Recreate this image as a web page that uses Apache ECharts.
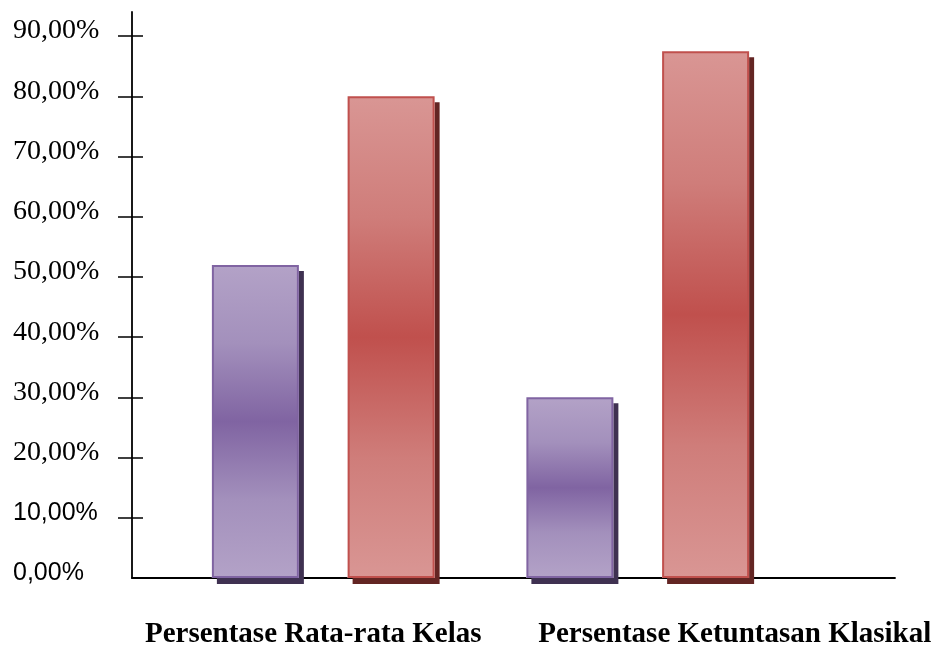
<!DOCTYPE html>
<html>
<head>
<meta charset="utf-8">
<script src="https://cdn.jsdelivr.net/npm/echarts@6/dist/echarts.min.js"></script>
<style>
  html, body { margin: 0; padding: 0; background: #fff; }
  #chart { width: 935px; height: 651px; }
</style>
</head>
<body>
<div id="chart"></div>
<script>
// Category names shown under the bars
const categories = ['Persentase Rata-rata Kelas', 'Persentase Ketuntasan Klasikal'];
// Percentages for the two series
const purpleValues = [52, 30];
const redValues = [80, 87.5];
// Values that get a tick and a label on the vertical axis
const tickValues = [0, 10, 20, 30, 40, 50, 60, 70, 80, 90];
const crossTickValues = [10, 20, 30, 40, 50, 60, 70, 80, 90];

const Y_MAX = 94;
const SERIF = '"Liberation Serif", "Times New Roman", serif';
const SANS = '"Liberation Sans", Arial, sans-serif';

function pctLabel(v) {
  return Number(v).toFixed(2).replace('.', ',') + '%';
}

function barGradient(edge, mid, soft) {
  return new echarts.graphic.LinearGradient(0, 0, 0, 1, [
    { offset: 0, color: edge },
    { offset: 0.25, color: soft },
    { offset: 0.5, color: mid },
    { offset: 0.75, color: soft },
    { offset: 1, color: edge }
  ]);
}
const purpleFill = barGradient('#b3a2c7', '#8064a2', '#a390bc');
const redFill = barGradient('#d99694', '#c0504d', '#cf7d7a');

const BAR_W = 87;
const BAR_GAP = '56%';

const frameBox = { left: 132, right: 40, top: 12, bottom: 73 };
const plotBox = { left: 166, right: 140, top: 12, bottom: 73 };
// ticks cross the axis line: they run from 14px left of it to 11px right of it
const tickBox = { left: 118, right: 40, top: 12, bottom: 73 };

const chart = echarts.init(document.getElementById('chart'), null, { renderer: 'canvas' });

chart.setOption({
  animation: false,
  backgroundColor: '#ffffff',
  grid: [
    Object.assign({}, frameBox),
    Object.assign({}, plotBox),
    Object.assign({}, plotBox),
    Object.assign({}, tickBox)
  ],
  xAxis: [
    {
      gridIndex: 0, type: 'category', data: categories,
      axisLine: { lineStyle: { color: '#000', width: 1.8 } },
      axisTick: { show: false }, axisLabel: { show: false }
    },
    {
      gridIndex: 1, type: 'category', data: categories,
      axisLine: { show: false }, axisTick: { show: false },
      axisLabel: {
        margin: 42,
        formatter: function (v, i) { return '{c' + i + '|' + v + '}'; },
        rich: {
          c0: { fontFamily: SERIF, fontWeight: 'bold', fontSize: 29, color: '#000', padding: [0, 20, 0, 0] },
          c1: { fontFamily: SERIF, fontWeight: 'bold', fontSize: 29, color: '#000', padding: [0, 0, 0, 194] }
        }
      }
    },
    { gridIndex: 2, type: 'category', data: categories, show: false },
    { gridIndex: 3, type: 'category', data: categories, show: false }
  ],
  yAxis: [
    {
      gridIndex: 0, type: 'value', min: 0, max: Y_MAX, position: 'left',
      axisLine: { show: true, lineStyle: { color: '#000', width: 1.8 } },
      axisTick: { show: false },
      splitLine: { show: false },
      axisLabel: {
        customValues: tickValues,
        margin: 119,
        align: 'left',
        padding: [0, 0, 10, 0],
        formatter: function (v) {
          const key = Number(v) <= 10 ? 's' : 't';
          return '{' + key + '|' + pctLabel(v) + '}';
        },
        rich: {
          t: { fontFamily: SERIF, fontSize: 28, color: '#000' },
          s: { fontFamily: SANS, fontSize: 25, color: '#000' }
        }
      }
    },
    {
      gridIndex: 1, type: 'value', min: 0, max: Y_MAX, show: false,
      splitLine: { show: false }
    },
    {
      gridIndex: 2, type: 'value', min: 0, max: Y_MAX, show: false,
      splitLine: { show: false }
    },
    {
      gridIndex: 3, type: 'value', min: 0, max: Y_MAX, position: 'left',
      axisLine: { show: false },
      axisTick: { show: true, inside: true, length: 25, customValues: crossTickValues, lineStyle: { color: '#000', width: 1.5 } },
      axisLabel: { show: false },
      splitLine: { show: false }
    }
  ],
  series: [
    // shadows (filled shapes only, so the outline casts no shadow)
    {
      name: 'Seri 1 bayangan', type: 'bar', xAxisIndex: 2, yAxisIndex: 2, z: 1,
      data: purpleValues, barWidth: BAR_W, barGap: BAR_GAP, silent: true,
      itemStyle: { color: '#ffffff', shadowColor: '#3f3151', shadowBlur: 0, shadowOffsetX: 5, shadowOffsetY: 6 }
    },
    {
      name: 'Seri 2 bayangan', type: 'bar', xAxisIndex: 2, yAxisIndex: 2, z: 1,
      data: redValues, barWidth: BAR_W, barGap: BAR_GAP, silent: true,
      itemStyle: { color: '#ffffff', shadowColor: '#632523', shadowBlur: 0, shadowOffsetX: 5, shadowOffsetY: 6 }
    },
    // bars
    {
      name: 'Seri 1', type: 'bar', xAxisIndex: 1, yAxisIndex: 1, z: 3,
      data: purpleValues, barWidth: BAR_W, barGap: BAR_GAP,
      itemStyle: { color: purpleFill, borderColor: '#8064a2', borderWidth: 2 }
    },
    {
      name: 'Seri 2', type: 'bar', xAxisIndex: 1, yAxisIndex: 1, z: 3,
      data: redValues, barWidth: BAR_W, barGap: BAR_GAP,
      itemStyle: { color: redFill, borderColor: '#c0504d', borderWidth: 2 }
    }
  ]
});
</script>
</body>
</html>
